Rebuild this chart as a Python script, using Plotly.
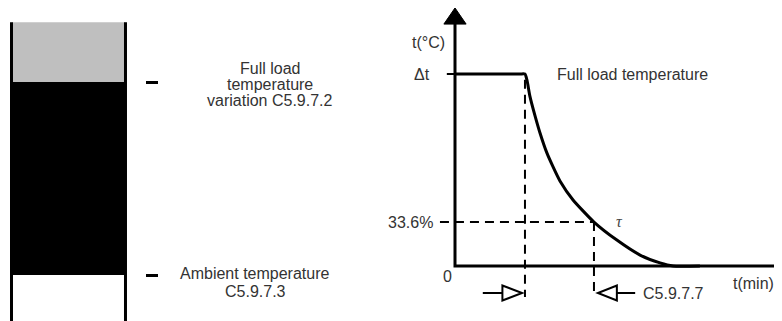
import plotly.graph_objects as go

W, H = 782, 321

# ---------------- data ----------------
# cooling curve (time in chart units, temperature in % of full-load rise)
curve_time = [0, 19.9, 21.4, 22.0, 22.9, 24.5, 26.0, 28.1, 30.0, 32.1, 36.1, 42.5, 49.5, 56.6, 62.7, 66.7, 74.9]
curve_temp = [100, 100, 100, 96.9, 88.5, 78.1, 69.3, 58.9, 51.6, 44.3, 34.4, 22.9, 13.5, 5.7, 1.6, 0, 0]

release_time = 21.4      # instant the load is removed
tau_time = 42.5          # time constant
tau_level = 22.9         # level drawn for 33.6 %
full_load_level = 100

y_tick_vals = [100, 22.9, 0]
y_tick_text = ["Δt", "33.6%", "0"]
axis_titles = ["t(°C)", "t(min)"]
plateau_label = "Full load temperature"
tau_label = "τ"
test_label = "C5.9.7.7"

# left column (stacked levels)
column_names = ["Ambient", "Full load temperature variation", "Margin"]
column_base = [-30, 0, 100]
column_height = [30, 100, 31]
column_colors = ["#ffffff", "#000000", "#bfbfbf"]
column_ticks = [100, 0]
column_labels = [["Full load", "temperature", "variation C5.9.7.2"],
                 ["Ambient temperature", "C5.9.7.3"]]

# ---------------- axes geometry ----------------
x_range = [-136.70, 102.45]
y_range = [-32.81, 134.375]
x_axis_end = 97.9
y_axis_end = 126.0

FONT = "Liberation Sans, Arial, sans-serif"
TXT = "#333333"

fig = go.Figure()

# left column as stacked bars
for n, b, h, c in zip(column_names, column_base, column_height, column_colors):
    fig.add_trace(go.Bar(x=[0], y=[h], base=[b], width=1, name=n,
                         marker=dict(color=c, line=dict(width=0)),
                         xaxis="x2", yaxis="y2", hoverinfo="skip"))

# cooling curve
fig.add_trace(go.Scatter(x=curve_time, y=curve_temp, mode="lines",
                         line=dict(color="black", width=3, shape="spline", smoothing=0.5),
                         xaxis="x", yaxis="y", hoverinfo="skip"))

shapes = []
# column side walls
top = column_base[-1] + column_height[-1]
for xv in (-0.5, 0.5):
    shapes.append(dict(type="line", xref="x2", yref="y2", x0=xv, x1=xv, y0=-30, y1=top,
                       line=dict(color="black", width=3)))

# axes (single path for a sharp corner)
shapes.append(dict(type="path", xref="x", yref="y",
                   path=f"M 0,{y_axis_end} L 0,0 L {x_axis_end},0",
                   line=dict(color="black", width=3)))
# arrowheads
shapes.append(dict(type="path", xref="x", yref="y",
                   path=f"M -3.4,{y_axis_end} L 3.4,{y_axis_end} L 0,{y_axis_end + 8.4} Z",
                   fillcolor="black", line=dict(color="black", width=1)))
shapes.append(dict(type="path", xref="x", yref="y",
                   path=f"M {x_axis_end},-4.7 L {x_axis_end},4.7 L {x_axis_end + 2.8},0 Z",
                   fillcolor="black", line=dict(color="black", width=1)))
# Δt tick
shapes.append(dict(type="line", xref="x", yref="y", x0=-2.5, x1=0, y0=full_load_level, y1=full_load_level,
                   line=dict(color="black", width=2)))

dash = "9px,6px"
# dashed guides
shapes.append(dict(type="line", xref="x", yref="y", x0=release_time, x1=release_time, y0=97, y1=-16.1,
                   line=dict(color="black", width=2, dash=dash)))
shapes.append(dict(type="line", xref="x", yref="y", x0=tau_time, x1=tau_time, y0=tau_level, y1=-16.1,
                   line=dict(color="black", width=2, dash=dash)))
shapes.append(dict(type="line", xref="x", yref="y", x0=-4.6, x1=tau_time, y0=tau_level, y1=tau_level,
                   line=dict(color="black", width=2, dash=dash)))

# bottom markers
ym = -14.06
hh = 3.9
shapes.append(dict(type="line", xref="x", yref="y", x0=release_time - 12.9, x1=release_time - 6.5,
                   y0=ym, y1=ym, line=dict(color="black", width=2)))
shapes.append(dict(type="path", xref="x", yref="y",
                   path=f"M {release_time - 6.9},{ym - hh} L {release_time - 6.9},{ym + hh} L {release_time - 0.9},{ym} Z",
                   fillcolor="white", line=dict(color="black", width=2)))
shapes.append(dict(type="line", xref="x", yref="y", x0=tau_time + 7.0, x1=tau_time + 12.6,
                   y0=ym, y1=ym, line=dict(color="black", width=2)))
shapes.append(dict(type="path", xref="x", yref="y",
                   path=f"M {tau_time + 7.0},{ym - hh} L {tau_time + 7.0},{ym + hh} L {tau_time + 1.2},{ym} Z",
                   fillcolor="white", line=dict(color="black", width=2)))

ann = []
def A(**kw):
    d = dict(showarrow=False, font=dict(family=FONT, size=16, color=TXT))
    d.update(kw)
    ann.append(d)

# y tick labels
A(text=y_tick_text[0], xref="x", yref="y", x=0, y=y_tick_vals[0], xanchor="right", xshift=-23)
A(text=y_tick_text[1], xref="x", yref="y", x=0, y=y_tick_vals[1], xanchor="right", xshift=-20)
A(text=y_tick_text[2], xref="x", yref="y", x=0, y=y_tick_vals[2], xanchor="center", xshift=-8, yshift=-10)
# axis titles
A(text=axis_titles[0], xref="x", yref="y", x=0, y=y_axis_end, xanchor="center", xshift=-27, yshift=-18)
A(text=axis_titles[1], xref="x", yref="y", x=x_axis_end, y=0, xanchor="center", xshift=-22, yshift=-17)
# in-chart labels
A(text=plateau_label, xref="x", yref="y", x=release_time, y=full_load_level, xanchor="left", xshift=30)
A(text="<i>" + tau_label + "</i>", xref="x", yref="y", x=tau_time, y=tau_level, xanchor="center", xshift=26,
  yshift=1, font=dict(family="Liberation Serif, DejaVu Serif, serif", size=16, color="#444444"))
A(text=test_label, xref="x", yref="y", x=tau_time + 12.6, y=ym, xanchor="left", xshift=6)

# column labels
for i, line in enumerate(column_labels[0]):
    A(text=line, xref="paper", yref="y2", x=262 / W, y=column_ticks[0], xanchor="center",
      yshift=14 - 16 * i)
for i, line in enumerate(column_labels[1]):
    A(text=line, xref="paper", yref="y2", x=247 / W, y=column_ticks[1], xanchor="center",
      yshift=2 - 18 * i)

hidden = dict(visible=False, showgrid=False, zeroline=False)
fig.update_layout(
    width=W, height=H, margin=dict(l=0, r=0, t=0, b=0),
    paper_bgcolor="white", plot_bgcolor="rgba(0,0,0,0)",
    showlegend=False, barmode="overlay",
    xaxis=dict(domain=[0, 1], range=x_range, **hidden),
    yaxis=dict(domain=[0, 1], range=y_range, **hidden),
    xaxis2=dict(domain=[0, 0.2], range=[-0.5307, 0.8413], anchor="y2", **hidden),
    yaxis2=dict(domain=[0, 1], range=[-27.98, 138.34], anchor="free", position=137 / W, side="right",
                visible=True, showgrid=False, zeroline=False, showline=False, showticklabels=False,
                ticks="outside", ticklen=12, tickwidth=3, tickcolor="black", tickvals=column_ticks),
    shapes=shapes, annotations=ann,
)

fig.write_html("out.html")
